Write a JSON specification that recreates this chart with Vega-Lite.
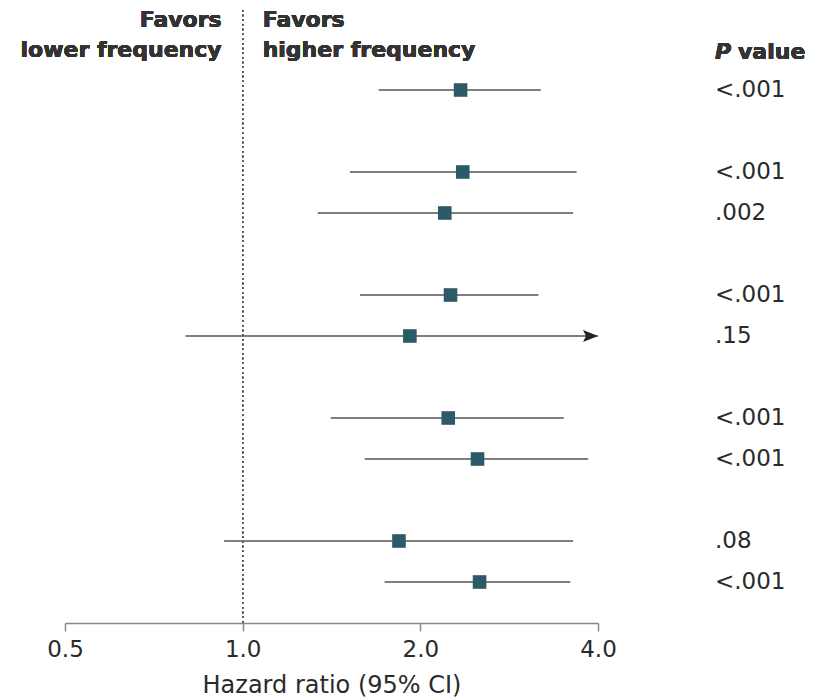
{
  "$schema": "https://vega.github.io/schema/vega-lite/v6.json",
  "autosize": "none",
  "width": 533,
  "height": 615,
  "padding": {"left": 65, "top": 8, "right": 222, "bottom": 76},
  "background": "white",
  "config": {
    "view": {"stroke": null},
    "font": "DejaVu Sans",
    "text": {"font": "DejaVu Sans", "color": "#2a2a2a"}
  },
  "data": {
    "values": [
      {"row": 0, "est": 2.34, "lo": 1.70, "hi": 3.20, "p": "<.001", "arrow": false},
      {"row": 2, "est": 2.36, "lo": 1.52, "hi": 3.68, "p": "<.001", "arrow": false},
      {"row": 3, "est": 2.20, "lo": 1.34, "hi": 3.63, "p": ".002", "arrow": false},
      {"row": 5, "est": 2.25, "lo": 1.58, "hi": 3.17, "p": "<.001", "arrow": false},
      {"row": 6, "est": 1.92, "lo": 0.80, "hi": 4.0, "p": ".15", "arrow": true},
      {"row": 8, "est": 2.23, "lo": 1.41, "hi": 3.50, "p": "<.001", "arrow": false},
      {"row": 9, "est": 2.50, "lo": 1.61, "hi": 3.85, "p": "<.001", "arrow": false},
      {"row": 11, "est": 1.84, "lo": 0.93, "hi": 3.63, "p": ".08", "arrow": false},
      {"row": 12, "est": 2.52, "lo": 1.74, "hi": 3.59, "p": "<.001", "arrow": false}
    ]
  },
  "encoding": {
    "y": {"field": "row", "type": "quantitative", "scale": {"domain": [-2, 13], "reverse": true, "nice": false, "zero": false}, "axis": null}
  },
  "layer": [
    {
      "mark": {"type": "rule", "color": "#555", "strokeWidth": 1.3, "strokeDash": [1.5, 3.2]},
      "encoding": {
        "x": {"datum": 1, "type": "quantitative"},
        "y": {"datum": -1.95, "type": "quantitative"},
        "y2": {"datum": 13}
      }
    },
    {
      "mark": {"type": "rule", "color": "#555", "strokeWidth": 1.3},
      "encoding": {
        "x": {
          "field": "lo", "type": "quantitative",
          "scale": {"type": "log", "domain": [0.5, 4], "nice": false},
          "axis": {
            "values": [0.5, 1, 2, 4], "format": ".1f", "title": "Hazard ratio (95% CI)",
            "grid": false, "domainColor": "#888", "domainWidth": 1.5, "tickColor": "#888", "tickWidth": 1.5, "tickSize": 8,
            "labelFlush": false,
            "labelFontSize": 23, "labelColor": "#2a2a2a", "labelPadding": 7, "labelFont": "DejaVu Sans",
            "titleFontSize": 24, "titleFontWeight": "normal", "titleColor": "#2a2a2a", "titlePadding": 12, "titleFont": "DejaVu Sans"
          }
        },
        "x2": {"field": "hi"}
      }
    },
    {
      "transform": [{"filter": "datum.arrow"}],
      "mark": {"type": "point", "shape": "M-1,-0.4L0,0L-1,0.4L-0.8,0Z", "filled": true, "color": "#222", "opacity": 1, "size": 900},
      "encoding": {"x": {"field": "hi", "type": "quantitative"}}
    },
    {
      "mark": {"type": "point", "shape": "square", "filled": true, "color": "#2d5a68", "opacity": 1, "size": 185},
      "encoding": {"x": {"field": "est", "type": "quantitative"}}
    },
    {
      "mark": {"type": "text", "align": "left", "baseline": "middle", "dx": 117, "fontSize": 23},
      "encoding": {"x": {"datum": 4, "type": "quantitative"}, "text": {"field": "p"}}
    },
    {
      "mark": {"type": "text", "align": "right", "baseline": "middle", "dx": -21, "fontSize": 22, "fontWeight": "bold", "lineBreak": "\n", "lineHeight": 30, "color": "#333"},
      "encoding": {"x": {"datum": 1, "type": "quantitative"}, "y": {"datum": -1.71, "type": "quantitative"}, "text": {"value": "Favors\nlower frequency"}}
    },
    {
      "mark": {"type": "text", "align": "left", "baseline": "middle", "dx": 20, "fontSize": 22, "fontWeight": "bold", "lineBreak": "\n", "lineHeight": 30, "color": "#333"},
      "encoding": {"x": {"datum": 1, "type": "quantitative"}, "y": {"datum": -1.71, "type": "quantitative"}, "text": {"value": "Favors\nhigher frequency"}}
    },
    {
      "mark": {"type": "text", "align": "left", "baseline": "middle", "dx": 117, "fontSize": 22, "fontWeight": "bold", "fontStyle": "italic", "color": "#333"},
      "encoding": {"x": {"datum": 4, "type": "quantitative"}, "y": {"datum": -0.93, "type": "quantitative"}, "text": {"value": "P"}}
    },
    {
      "mark": {"type": "text", "align": "left", "baseline": "middle", "dx": 140, "fontSize": 22, "fontWeight": "bold", "color": "#333"},
      "encoding": {"x": {"datum": 4, "type": "quantitative"}, "y": {"datum": -0.93, "type": "quantitative"}, "text": {"value": "value"}}
    }
  ]
}
